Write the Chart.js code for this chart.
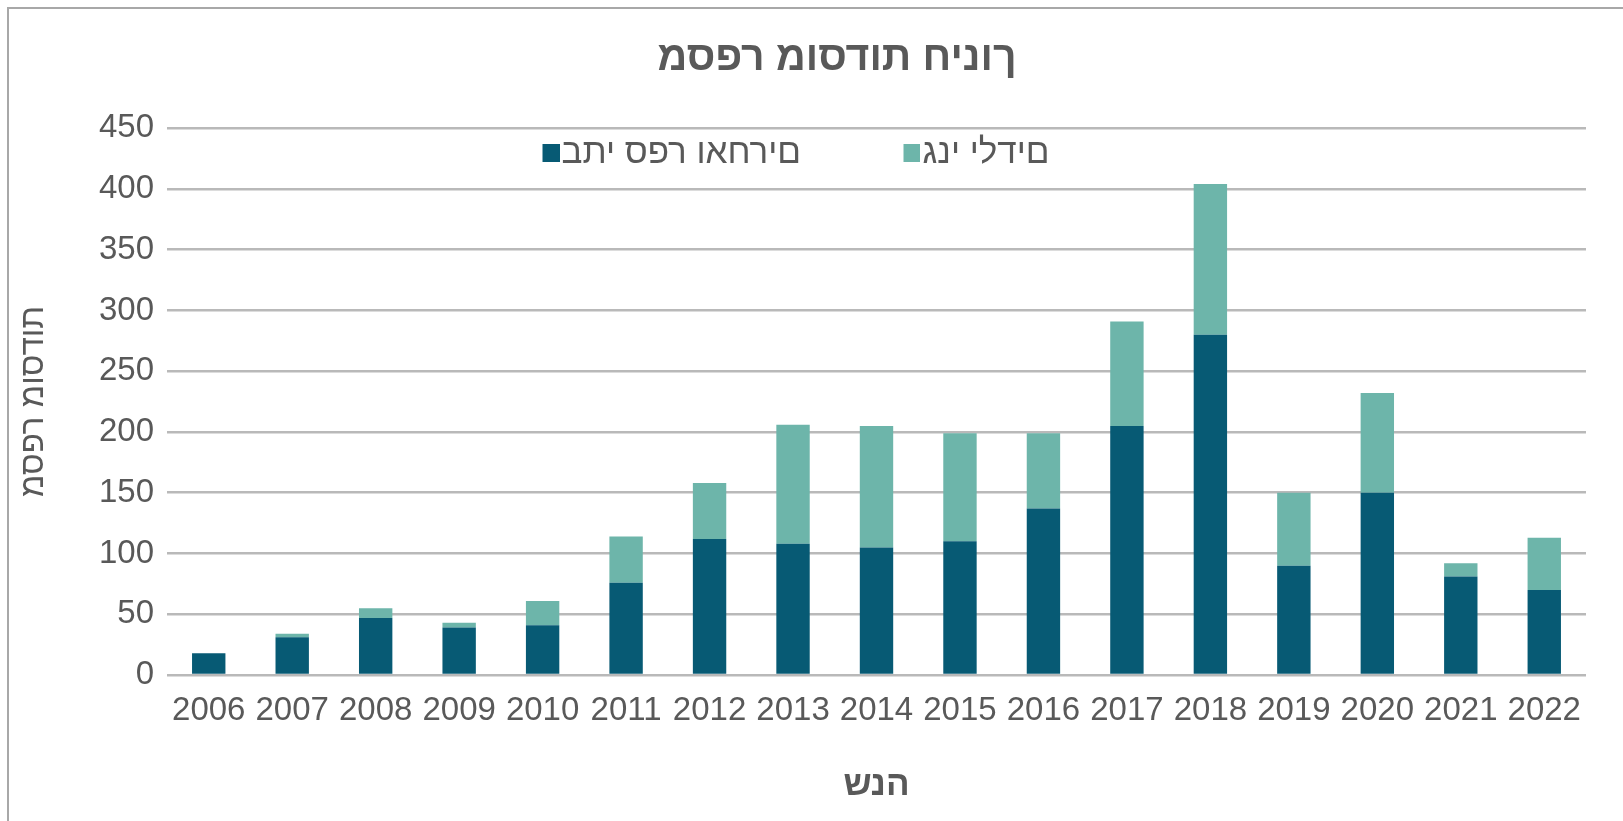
<!DOCTYPE html>
<html>
<head>
<meta charset="utf-8">
<script src="https://cdn.jsdelivr.net/npm/chart.js@4.4.1/dist/chart.umd.min.js"></script>
<style>
  html, body { margin: 0; padding: 0; background: #ffffff; overflow: hidden; }
  #wrap { position: relative; width: 1623px; height: 821px; }
  #frame { position: absolute; left: 7px; top: 7px; width: 1616px; height: 814px;
           border-left: 2px solid #a8a8a8; border-top: 2px solid #a8a8a8; box-sizing: border-box; }
  #c { position: absolute; left: 0; top: 0; }
</style>
</head>
<body>
<div id="wrap">
  <div id="frame"></div>
  <canvas id="c" width="1623" height="821"></canvas>
</div>
<script>
// ---- data ----
const years = ['2006','2007','2008','2009','2010','2011','2012','2013','2014','2015','2016','2017','2018','2019','2020','2021','2022'];
const schoolsAndOthers = [18, 31, 47, 39, 41, 76, 112, 108, 105, 110, 137, 205, 280, 90, 150, 81, 70];
const kindergartens    = [0, 3, 8, 4, 20, 38, 46, 98, 100, 89, 62, 86, 124, 60, 82, 11, 43];
const seriesNames = ['בתי ספר ואחרים', 'גני ילדים'];
const chartTitle = 'מספר מוסדות חינוך';
const xTitle = 'שנה';
const yTitle = 'מספר מוסדות';
const yTicks = [0, 50, 100, 150, 200, 250, 300, 350, 400, 450];

// The reference draws the Hebrew glyphs in stored order, left to right.
const asDrawn = s => '\u202D' + s + '\u202C';

// ---- style ----
const DARK = '#075a74';
const LIGHT = '#6db5aa';
const TXT = '#595959';
const GRID = '#b9b9b9';
const FONT = "'Liberation Sans', Arial, sans-serif";
const LEG_SIZE = 35;

// legend swatch images (square placed at the right end so it sits close to the text)
const SW_W = 94;
const SW_K = LEG_SIZE / 2 - 2;
function swatch(color) {
  const cv = document.createElement('canvas');
  cv.width = Math.round(SW_W + 2 * SW_K); cv.height = 18;
  const g = cv.getContext('2d');
  g.fillStyle = color;
  g.fillRect(cv.width - 17, 0, 17, 18);
  return cv;
}
const swatches = [swatch(DARK), swatch(LIGHT)];

const placer = {
  id: 'placer',
  afterLayout(chart) {
    const lg = chart.legend;
    if (lg) {
      lg.top = 125.5; lg.bottom = 190; lg.height = 64.5;
      lg.left = 440; lg.right = 1623; lg.width = 1183;
    }
    const t = chart.titleBlock;
    if (t) { t.left = 88; t.right = 1586; t.width = 1498; }
  }
};

new Chart(document.getElementById('c'), {
  type: 'bar',
  data: {
    labels: years,
    datasets: [
      { label: asDrawn(seriesNames[0]), data: schoolsAndOthers, backgroundColor: DARK, borderWidth: 0,
        barPercentage: 0.4, categoryPercentage: 1.0 },
      { label: asDrawn(seriesNames[1]), data: kindergartens, backgroundColor: LIGHT, borderWidth: 0,
        barPercentage: 0.4, categoryPercentage: 1.0 }
    ]
  },
  plugins: [placer],
  options: {
    responsive: false,
    animation: false,
    devicePixelRatio: 1,
    layout: { padding: { left: 10, right: 37, top: 10, bottom: 0 } },
    plugins: {
      tooltip: { enabled: false },
      title: {
        display: true, text: asDrawn(chartTitle), color: TXT,
        font: { family: FONT, size: 41, weight: 'bold' },
        padding: { top: 24, bottom: 25 }
      },
      legend: {
        display: true, position: 'top', align: 'start', maxHeight: 20,
        labels: {
          color: TXT, font: { family: FONT, size: LEG_SIZE },
          usePointStyle: true, pointStyleWidth: SW_W, boxHeight: 17, padding: 10,
          generateLabels(chart) {
            const items = Chart.defaults.plugins.legend.labels.generateLabels(chart);
            items.forEach((it, i) => { it.pointStyle = swatches[i]; it.lineWidth = 0; });
            return items;
          }
        }
      }
    },
    scales: {
      x: {
        stacked: true,
        grid: { display: false },
        border: { display: false },
        ticks: { color: TXT, font: { family: FONT, size: 33 }, padding: 8, maxRotation: 0, autoSkip: false },
        title: { display: true, text: asDrawn(xTitle), color: TXT, font: { family: FONT, size: 35, weight: 'bold' },
                 padding: { top: 0, bottom: 15 } },
        afterFit(s) { s.height = 146; }
      },
      y: {
        stacked: true, min: 0, max: 450,
        afterBuildTicks(s) { s.ticks = yTicks.map(v => ({ value: v })); },
        grid: { color: GRID, lineWidth: 2.5, drawTicks: false },
        border: { display: false },
        ticks: { color: TXT, font: { family: FONT, size: 33 }, padding: 13 },
        title: { display: true, text: asDrawn(yTitle), color: TXT, font: { family: FONT, size: 33 },
                 padding: { top: 4, bottom: 0 } },
        afterFit(s) { s.width = 157; }
      }
    }
  }
});
</script>
</body>
</html>
